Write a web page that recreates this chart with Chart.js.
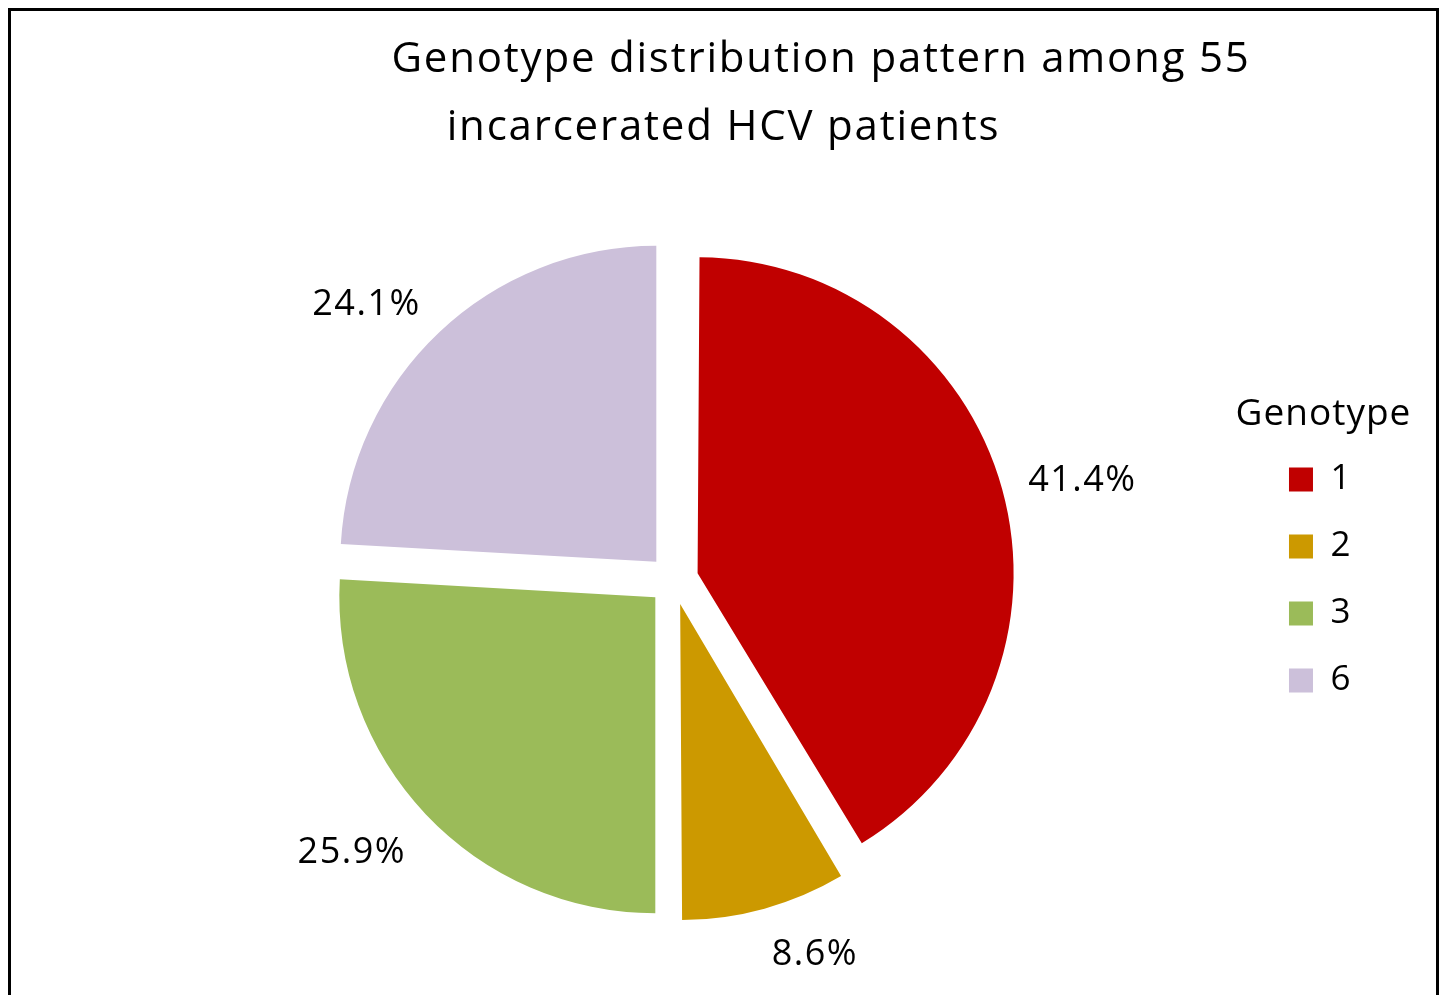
<!DOCTYPE html>
<html>
<head>
<meta charset="utf-8">
<script src="https://cdn.jsdelivr.net/npm/chart.js@4/dist/chart.umd.min.js"></script>
<style>
  html, body { margin: 0; padding: 0; background: #fff; overflow: hidden; }
  #moldura { position: absolute; left: 8px; top: 8px; width: 1425px; height: 1020px; border: 3px solid #000; }
  #area { position: absolute; left: 0; top: 0; width: 1440px; height: 995px; }
</style>
</head>
<body>
<div id="moldura"></div>
<div id="area"><canvas id="grafico-genotipos"></canvas></div>
<script>
// Dados do gráfico
const genotipos = ['1', '2', '3', '6'];
const percentuais = [41.4, 8.6, 25.9, 24.1];
const cores = ['#C00000', '#CC9900', '#9BBB59', '#CCC0DA'];
const tituloLinhas = ['Genotype distribution pattern among 55', 'incarcerated HCV patients'];
const tituloLegenda = 'Genotype';

const FONTE = '"Open Sans", "Noto Sans", sans-serif';
// chart.js desloca a fatia em offset/4
const EXPLODIR = 100;

// Mantém o mesmo raio em todas as fatias deslocadas
const raioUniforme = {
    id: 'raioUniforme',
    beforeDatasetsDraw(chart) {
        chart.getDatasetMeta(0).data.forEach(arco => {
            const extra = EXPLODIR / 4 * (1 - Math.sin(Math.min(Math.PI, arco.circumference)));
            arco._raioOriginal = arco.outerRadius;
            arco.outerRadius -= extra;
        });
    },
    afterDatasetsDraw(chart) {
        chart.getDatasetMeta(0).data.forEach(arco => {
            arco.outerRadius = arco._raioOriginal;
        });
    }
};

// Rótulos de percentual fora das fatias
const rotulosFatias = {
    id: 'rotulosFatias',
    afterDatasetsDraw(chart) {
        const ctx = chart.ctx;
        ctx.save();
        ctx.font = '36px ' + FONTE;
        ctx.letterSpacing = '1.5px';
        ctx.fillStyle = '#000';
        ctx.textAlign = 'center';
        ctx.textBaseline = 'middle';
        chart.getDatasetMeta(0).data.forEach((arco, i) => {
            const meio = (arco.startAngle + arco.endAngle) / 2;
            const cos = Math.cos(meio), sin = Math.sin(meio);
            const cx = arco.x + cos * EXPLODIR / 4;
            const cy = arco.y + sin * EXPLODIR / 4;
            const texto = percentuais[i].toFixed(1) + '%';
            const meiaLargura = ctx.measureText(texto).width / 2;
            const d = arco.outerRadius + 27;
            const fx = Math.max(-1, Math.min(1, cos * 4));
            const fy = Math.max(-1, Math.min(1, sin * 2));
            ctx.fillText(texto, cx + cos * d + fx * meiaLargura, cy + sin * d + fy * 14 + 6);
        });
        ctx.restore();
    }
};

// Título em duas linhas e título da legenda
const titulos = {
    id: 'titulos',
    afterDraw(chart) {
        const ctx = chart.ctx;
        ctx.save();
        ctx.font = '42px ' + FONTE;
        ctx.letterSpacing = '1.8px';
        ctx.fillStyle = '#000';
        ctx.textAlign = 'center';
        ctx.textBaseline = 'alphabetic';
        ctx.fillText(tituloLinhas[0], 821, 72);
        ctx.fillText(tituloLinhas[1], 723.5, 140);

        ctx.font = '37px ' + FONTE;
        ctx.letterSpacing = '1px';
        ctx.fillText(tituloLegenda, 1323.5, 425);
        ctx.restore();
    }
};

const ctx = document.getElementById('grafico-genotipos').getContext('2d');

new Chart(ctx, {
    type: 'pie',
    data: {
        labels: genotipos,
        datasets: [{
            data: percentuais,
            backgroundColor: cores,
            borderWidth: 0,
            offset: EXPLODIR,
            hoverOffset: 0
        }]
    },
    options: {
        responsive: true,
        maintainAspectRatio: false,
        animation: false,
        events: [],
        radius: 316,
        layout: {
            padding: { top: 240, bottom: 75, left: 90, right: 79.5 }
        },
        plugins: {
            tooltip: { enabled: false },
            legend: {
                position: 'right',
                align: 'center',
                labels: {
                    boxWidth: 24,
                    boxHeight: 24,
                    padding: 32,
                    color: '#000',
                    font: { family: FONTE, size: 35 }
                }
            }
        }
    },
    plugins: [raioUniforme, rotulosFatias, titulos]
});
</script>
</body>
</html>
